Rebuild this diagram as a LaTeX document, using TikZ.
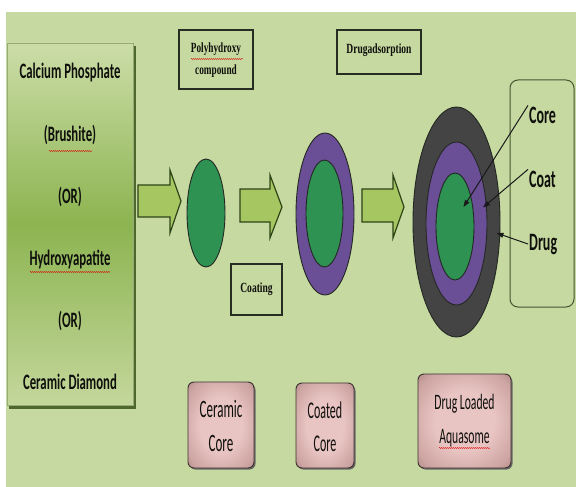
\documentclass[tikz,border=0pt]{standalone}
\usepackage{graphicx}
\usepackage{fontspec}
\setmainfont{Carlito}
\newfontfamily\serifb{Liberation Serif}
\usetikzlibrary{arrows.meta,decorations.pathmorphing}
\definecolor{bg}{RGB}{198,217,160}
\definecolor{lbtop}{RGB}{204,221,168}
\definecolor{lbmid}{RGB}{140,180,80}
\definecolor{lbbot}{RGB}{196,215,156}
\definecolor{lbborder}{RGB}{150,170,120}
\definecolor{lbshadow}{RGB}{78,104,44}
\definecolor{arrfill}{RGB}{166,198,98}
\definecolor{arrline}{RGB}{45,68,22}
\definecolor{cgreen}{RGB}{46,146,82}
\definecolor{cpurple}{RGB}{106,78,150}
\definecolor{cgray}{RGB}{68,68,68}
\definecolor{ellline}{RGB}{35,40,35}
\definecolor{boxline}{RGB}{40,45,35}
\definecolor{legline}{RGB}{70,85,50}
\definecolor{pinkA}{RGB}{232,196,194}
\definecolor{pinkB}{RGB}{205,165,162}
\definecolor{pinkC}{RGB}{150,115,111}
\definecolor{pinkD}{RGB}{95,70,66}
\definecolor{pinkline}{RGB}{60,50,48}
\definecolor{txt}{RGB}{15,15,12}
\pgfdeclareradialshading{pinkrad}{\pgfpoint{0bp}{0bp}}{color(0bp)=(pinkA); color(16bp)=(pinkA); color(30bp)=(pinkB); color(42bp)=(pinkC); color(50bp)=(pinkD)}
\newcommand{\sqz}[2]{\scalebox{#1}[1]{#2}}
\tikzset{
  blockarrow/.style={fill=arrfill, draw=arrline, line width=1.2pt, line join=miter},
  ellbase/.style={draw=ellline, line width=0.9pt},
  tbox/.style={draw=boxline, line width=1.1pt, inner sep=0pt, text=txt},
  pinkbox/.style={draw=pinkline, line width=0.9pt, rounded corners=6pt, shading=pinkrad, inner sep=0pt, text=txt},
  lbl/.style={inner sep=1pt, font=\fontsize{25}{30}\selectfont\bfseries, text=txt},
  conn/.style={draw=black!90, line width=1pt, -{Triangle[length=7pt,width=5pt]}},
  squig/.style={draw=red!85!black, line width=0.5pt, decorate, decoration={snake, amplitude=0.5pt, segment length=2pt}}
}
\begin{document}
\begin{tikzpicture}[x=1pt,y=-1pt]
\useasboundingbox (0,0) rectangle (576,487);
\fill[white] (0,0) rectangle (576,487);
\fill[bg] (5.5,12) rectangle (576,487);

% source box
\fill[lbshadow] (9,46) rectangle (135.5,408.5);
\node[draw=lbborder, line width=0.6pt, top color=lbtop, bottom color=lbbot, middle color=lbmid,
      minimum width=126pt, minimum height=362pt, inner sep=0pt, text height=0pt, text depth=290pt, text=txt] (src) at (70,224)
  {\sqz{0.58}{\fontsize{22}{62.2}\selectfont\bfseries\begin{tabular}[t]{@{}c@{}}Calcium Phosphate\\(Brushite)\\(OR)\\Hydroxyapatite\\(OR)\\Ceramic Diamond\end{tabular}}};
\draw[squig] (49,151) -- (92,151);
\draw[squig] (30,272) -- (110,272);

% block arrows
\draw[blockarrow] (138,185) -- (170,185) -- (170,170) -- (181,201) -- (170,233) -- (170,217) -- (138,217) -- cycle;
\draw[blockarrow] (240,189) -- (270,189) -- (270,175) -- (282,207) -- (270,238) -- (270,222) -- (240,222) -- cycle;
\draw[blockarrow] (362,189) -- (393,189) -- (393,175) -- (404,207) -- (393,238) -- (393,222) -- (362,222) -- cycle;

% ceramic core
\draw[ellbase, fill=cgreen] (206,213) ellipse [x radius=19pt, y radius=54pt];
% coated core
\draw[ellbase, fill=cpurple] (325,214) ellipse [x radius=29pt, y radius=81pt];
\draw[ellbase, fill=cgreen] (324.5,213.5) ellipse [x radius=18.5pt, y radius=53.5pt];
% drug loaded aquasome
\draw[ellbase, fill=cgray] (456.5,222) ellipse [x radius=43.5pt, y radius=115pt];
\draw[ellbase, fill=cpurple] (456.5,223.5) ellipse [x radius=30.5pt, y radius=81.5pt];
\draw[ellbase, fill=cgreen] (455,226.5) ellipse [x radius=19pt, y radius=53.5pt];

% step labels
\node[tbox, minimum width=74pt, minimum height=59pt, text height=0pt, text depth=13pt] (poly) at (216,59.5)
  {\sqz{0.66}{\serifb\bfseries\fontsize{14}{21}\selectfont\begin{tabular}[t]{@{}c@{}}Polyhydroxy\\compound\end{tabular}}};
\draw[squig] (191,59) -- (243,59);
\node[tbox, minimum width=84pt, minimum height=44pt, text height=3pt, text depth=0pt] (ads) at (379,52)
  {\sqz{0.68}{\serifb\bfseries\fontsize{14}{17}\selectfont Drugadsorption}};
\node[tbox, minimum width=51pt, minimum height=51pt, text height=5pt, text depth=0pt] (coat) at (256.5,289.5)
  {\sqz{0.68}{\serifb\bfseries\fontsize{14}{17}\selectfont Coating}};

% legend
\node[draw=legline, line width=1pt, rounded corners=8pt, minimum width=64pt, minimum height=227pt, inner sep=0pt] (legend) at (542,193.5) {};
\node[lbl, anchor=base west] (Core) at (528,123) {\sqz{0.56}{Core}};
\node[lbl, anchor=base west] (Coat) at (528,187) {\sqz{0.56}{Coat}};
\node[lbl, anchor=base west] (Drug) at (528,250) {\sqz{0.56}{Drug}};
\coordinate (coreTip) at (463.5,207);
\coordinate (coatTip) at (483,207.5);
\coordinate (drugTip) at (496.5,233);
\draw[conn] (Core.north west) -- (coreTip);
\draw[conn] (Coat.north west) -- (coatTip);
\draw[conn] (Drug.west) -- (drugTip);

% product labels
\fill[black!60, rounded corners=6pt] (189.5,384) rectangle (255.5,469.5);
\node[pinkbox, minimum width=66pt, minimum height=86pt, text height=0pt, text depth=14.6pt] (ceramic) at (221,425)
  {\sqz{0.52}{\fontsize{25}{33.3}\selectfont\begin{tabular}[t]{@{}c@{}}Ceramic\\Core\end{tabular}}};
\fill[black!60, rounded corners=6pt] (297.5,385) rectangle (355.5,469.5);
\node[pinkbox, minimum width=58pt, minimum height=85pt, text height=0pt, text depth=15pt] (coated) at (325,425.5)
  {\sqz{0.5}{\fontsize{24}{33.3}\selectfont\begin{tabular}[t]{@{}c@{}}Coated\\Core\end{tabular}}};
\fill[black!60, rounded corners=6pt] (419.5,376) rectangle (512.5,469.5);
\node[pinkbox, minimum width=93pt, minimum height=94pt, text height=0pt, text depth=24pt] (loaded) at (464.5,421)
  {\sqz{0.53}{\fontsize{22}{34}\selectfont\begin{tabular}[t]{@{}c@{}}Drug Loaded\\Aquasome\end{tabular}}};
\draw[squig] (439,448) -- (490,448);
\end{tikzpicture}
\end{document}
